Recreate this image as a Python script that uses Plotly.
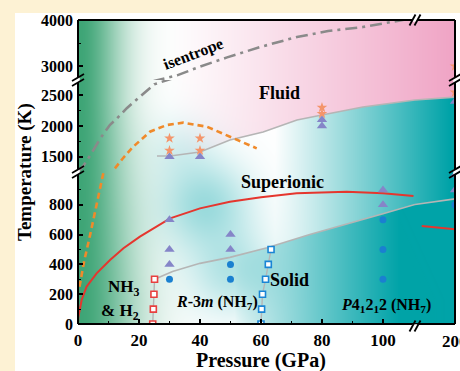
import numpy as np, zlib, struct, base64
import plotly.graph_objects as go

# ---------------- data (Pressure in GPa, Temperature in K) ----------------
isen_P = [0, 1.6, 4.5, 7.2, 10.5, 12.7, 16, 20.3, 25, 32.5, 40, 48.9, 60, 71.8, 82, 93.4, 100, 105.6, 109]
isen_T = [1250, 1340, 1560, 1790, 2020, 2120, 2290, 2473, 2680, 2800, 2990, 3190, 3420, 3632, 3760, 3848, 3920, 3978, 4030]

melt_P = [12.1, 15, 18.1, 23.6, 29.1, 34.5, 42.2, 49.8, 58.6]
melt_T = [1310, 1490, 1662, 1907, 2016, 2054, 1989, 1826, 1636]

lowmelt_P = [0.5, 2.0, 4.0, 6.0, 8.2, 8.6]
lowmelt_T = [250, 420, 600, 800, 1000, 1040]

red_P = [0, 0.1, 1.2, 2.8, 6.1, 10.5, 14.9, 20.3, 30.2, 40, 49.8, 60, 71.7, 88.1, 100, 110]
red_T = [0, 45, 161, 250, 340, 430, 508, 586, 709, 776, 821, 850, 877, 888, 878, 859]
red_r_P = [189.2, 200]
red_r_T = [658, 635]

fluid_P = [25.9, 30.2, 40, 49.8, 60.7, 71.8, 80, 93.4, 110.5]
fluid_T = [1511, 1511, 1576, 1772, 1902, 2098, 2179, 2310, 2424]
fluid_r_P = [187, 200]
fluid_r_T = [2424, 2470]

solid_P = [25.1, 28, 31, 40, 49.8, 62, 76, 100, 105.6, 110.5]
solid_T = [300, 327, 353, 407, 447, 512, 600, 740, 773, 802]
solid_r_P = [187, 200]
solid_r_T = [802, 840]

redsq_P = [24.5, 24.7, 24.9, 25.1]
redsq_T = [0, 100, 200, 300]
bluesq_P = [60, 60.2, 60.5, 61.5, 62.4, 63.3]
bluesq_T = [0, 100, 200, 300, 400, 500]

tri_P = [30, 30, 30, 50, 50, 100, 100, 200, 200, 30, 40, 80, 80, 200]
tri_T = [400, 500, 700, 500, 600, 800, 900, 900, 1000, 1500, 1500, 2000, 2100, 2400]
star_P = [30, 30, 40, 40, 80, 80, 200, 200]
star_T = [1600, 1800, 1600, 1800, 2200, 2300, 2550, 3000]
circ_P = [30, 50, 50, 100, 100, 100, 200]
circ_T = [300, 300, 400, 300, 500, 700, 800]

x_ticks = [0, 20, 40, 60, 80, 100]
x_minor = [10, 30, 50, 70, 90]
x_tick_r = 200
yL_ticks = [0, 200, 400, 600, 800]
yL_minor = [100, 300, 500, 700, 900]
yM_ticks = [1500, 2000, 2500]
yM_minor = [1750, 2250]
yT_ticks = [3000, 4000]
yT_minor = [3500]

# ---------------- geometry ----------------
FIG_W, FIG_H = 460, 371
ML, MR, MT, MB = 78, 5, 20, 47
PW = FIG_W - ML - MR
PH = FIG_H - MT - MB
BOT = MT + PH
XB_PX = 415      # x-axis break
YB1_PX = 172     # lower/middle break
YB2_PX = 80      # middle/top break
XL_RANGE = [0, 110.5]
XR_RANGE = [187, 200]
YL_RANGE = [0, 1020]
YM_RANGE = [1250, 2750]
YT_RANGE = [2700, 4000]

def fx(px): return (px - ML) / PW
def fy(py): return (BOT - py) / PH

xb = fx(XB_PX)
y1 = fy(YB1_PX)
y2 = fy(YB2_PX)

def P_to_px(P):
    P = np.asarray(P, float)
    left = ML + (P - XL_RANGE[0]) / (XL_RANGE[1] - XL_RANGE[0]) * (XB_PX - ML)
    right = XB_PX + (P - XR_RANGE[0]) / (XR_RANGE[1] - XR_RANGE[0]) * (ML + PW - XB_PX)
    return np.where(P <= XL_RANGE[1], left, right)

def T_to_py_mid(T):
    T = np.asarray(T, float)
    return YB1_PX - (T - YM_RANGE[0]) / (YM_RANGE[1] - YM_RANGE[0]) * (YB1_PX - YB2_PX)

def T_to_py_low(T):
    T = np.asarray(T, float)
    return BOT - (T - YL_RANGE[0]) / (YL_RANGE[1] - YL_RANGE[0]) * (BOT - YB1_PX)

# ---------------- background gradient image ----------------
gx = ML + np.arange(PW) + 0.5
gy = MT + np.arange(PH) + 0.5
X, Y = np.meshgrid(gx, gy)

f_px = P_to_px(fluid_P + fluid_r_P); f_py = T_to_py_mid(fluid_T + fluid_r_T)
s_px = P_to_px(solid_P + solid_r_P); s_py = T_to_py_low(solid_T + solid_r_T)
yf = np.interp(X, f_px, f_py)
ys = np.interp(X, s_px, s_py)
fluid = Y < yf
solid = Y > ys

wt_super = np.clip((X - 275) / 175, 0, 1)
wt_solid = np.clip((X - 235) / 165, 0, 1) ** 0.8
wt = np.where(solid, wt_solid, wt_super)
wt = np.where(fluid, 0.0, wt)
for cx, cy, s, a in [(205, 205, 32, 0.38), (232, 272, 30, 0.28), (180, 150, 24, 0.12)]:
    b = a * np.exp(-((X - cx) ** 2 + (Y - cy) ** 2) / (2 * s * s))
    wt = 1 - (1 - wt) * (1 - b)
wp = np.where(fluid, np.clip((X - 170) / 285, 0, 1) ** 1.05, 0.0)
sg = 45 + 15 * np.clip((Y - 100) / 200, 0, 1)
wg = np.exp(-((X - ML) / sg) ** 2)

white = np.array([255, 255, 255.0])
teal = np.array([0, 163, 168.0])
pink = np.array([240, 164, 197.0])
green = np.array([62, 165, 118.0])
col = white * (1 - wt[..., None]) + teal * wt[..., None]
col = col * (1 - wp[..., None]) + pink * wp[..., None]
col = col * (1 - wg[..., None]) + green * wg[..., None]
img = np.clip(col, 0, 255).astype(np.uint8)

def png_bytes(arr):
    h, w, _ = arr.shape
    raw = b''.join(b'\x00' + arr[i].tobytes() for i in range(h))
    def chunk(t, d):
        c = struct.pack('>I', len(d)) + t + d
        return c + struct.pack('>I', zlib.crc32(t + d) & 0xffffffff)
    return (b'\x89PNG\r\n\x1a\n' + chunk(b'IHDR', struct.pack('>IIBBBBB', w, h, 8, 2, 0, 0, 0))
            + chunk(b'IDAT', zlib.compress(raw, 9)) + chunk(b'IEND', b''))

bg_src = 'data:image/png;base64,' + base64.b64encode(png_bytes(img)).decode()

# ---------------- traces ----------------
fig = go.Figure()

def add_line(P, T, subplots, **line):
    for xa, ya in subplots:
        fig.add_trace(go.Scatter(x=P, y=T, mode='lines', line=line, xaxis=xa, yaxis=ya,
                                 showlegend=False, hoverinfo='skip'))

def add_markers(P, T, marker, line=None):
    P = np.asarray(P, float); T = np.asarray(T, float)
    for xa, xr in (('x', XL_RANGE), ('x2', XR_RANGE)):
        for ya, yr in (('y', YL_RANGE), ('y2', YM_RANGE), ('y3', YT_RANGE)):
            m = (P >= xr[0]) & (P <= xr[1]) & (T >= yr[0]) & (T <= yr[1])
            if m.any():
                fig.add_trace(go.Scatter(x=P[m], y=T[m], mode='lines+markers' if line else 'markers',
                                         marker=marker, line=line, xaxis=xa, yaxis=ya,
                                         showlegend=False, hoverinfo='skip'))

GRAY = '#B5B5B5'
add_line(fluid_P, fluid_T, [('x', 'y2')], color=GRAY, width=1.6)
add_line(fluid_r_P, fluid_r_T, [('x2', 'y2')], color=GRAY, width=1.6)
add_line(solid_P, solid_T, [('x', 'y')], color=GRAY, width=1.6)
add_line(solid_r_P, solid_r_T, [('x2', 'y')], color=GRAY, width=1.6)
add_line(isen_P, isen_T, [('x', 'y2'), ('x', 'y3')], color='#8A8A8A', width=2.6, dash='12px,5px,3px,5px')
add_line(melt_P, melt_T, [('x', 'y2')], color='#F08A2A', width=2.6, dash='6px,4px')
add_line(lowmelt_P, lowmelt_T, [('x', 'y')], color='#F08A2A', width=2.6, dash='6px,4px')
add_line(red_P, red_T, [('x', 'y')], color='#E5362E', width=2)
add_line(red_r_P, red_r_T, [('x2', 'y')], color='#E5362E', width=2)

add_markers(redsq_P, redsq_T, dict(symbol='square', size=6, color='white', line=dict(color='#E8403F', width=1.6)),
            line=dict(color=GRAY, width=1.4))
add_markers(bluesq_P, bluesq_T, dict(symbol='square', size=6, color='white', line=dict(color='#1A85D5', width=1.6)),
            line=dict(color=GRAY, width=1.4))
add_markers(tri_P, tri_T, dict(symbol='triangle-up', size=9, color='#8585C8'))
add_markers(star_P, star_T, dict(symbol='star', size=8, color='#F4956B'))
add_markers(circ_P, circ_T, dict(symbol='circle', size=7, color='#1A80D0'))

# ---------------- axes ----------------
yfont = dict(family='Liberation Serif', size=16, color='black', weight='bold')
xfont = dict(family='Liberation Serif', size=17, color='black', weight='bold')
common = dict(showgrid=False, zeroline=False, showline=False, ticks='inside', ticklen=5, tickwidth=1.5,
              tickcolor='black', fixedrange=True)

def minor(vals):
    return dict(tickmode='array', tickvals=vals, ticks='inside', ticklen=3, tickwidth=1.2, tickcolor='black')

fig.update_layout(
    width=FIG_W, height=FIG_H,
    margin=dict(l=ML, r=MR, t=MT, b=MB, pad=0),
    paper_bgcolor='white', plot_bgcolor='rgba(0,0,0,0)',
    xaxis=dict(domain=[0, xb], range=XL_RANGE, anchor='y', tickmode='array', tickvals=x_ticks,
               minor=minor(x_minor), ticklabelstandoff=4, tickfont=xfont, **common),
    xaxis2=dict(domain=[xb, 1], range=XR_RANGE, anchor='y', tickmode='array', tickvals=[x_tick_r],
                showticklabels=False, tickfont=xfont, **{**common, 'ticks': ''}),
    yaxis=dict(domain=[0, y1], range=YL_RANGE, anchor='x', tickmode='array', tickvals=yL_ticks,
               minor=minor(yL_minor), ticklabelstandoff=4, tickfont=yfont, **common),
    yaxis2=dict(domain=[y1, y2], range=YM_RANGE, anchor='x', tickmode='array', tickvals=yM_ticks,
                minor=minor(yM_minor), ticklabelstandoff=4, tickfont=yfont, **common),
    yaxis3=dict(domain=[y2, 1], range=YT_RANGE, anchor='x', tickmode='array', tickvals=yT_ticks,
                minor=minor(yT_minor), ticklabelstandoff=4, tickfont=yfont, **common),
    images=[dict(source=bg_src, xref='paper', yref='paper', x=0, y=1, sizex=1, sizey=1,
                 xanchor='left', yanchor='top', sizing='stretch', layer='below')],
)

# ---------------- decorations (frame, breaks, cream border) ----------------
CREAM = '#FDF2D4'
shapes = [
    dict(type='rect', xref='paper', yref='paper', x0=fx(0), x1=fx(FIG_W), y0=fy(0), y1=fy(13),
         fillcolor=CREAM, line=dict(width=0), layer='below'),
    dict(type='rect', xref='paper', yref='paper', x0=fx(0), x1=fx(15), y0=fy(0), y1=fy(FIG_H),
         fillcolor=CREAM, line=dict(width=0), layer='below'),
]
def pline(x0, y0, x1, y1, color='black', width=2):
    shapes.append(dict(type='line', xref='paper', yref='paper', x0=fx(x0), y0=fy(y0), x1=fx(x1), y1=fy(y1),
                       line=dict(color=color, width=width)))

R = ML + PW
pline(ML, MT, ML, BOT); pline(R, MT, R, BOT); pline(ML, MT, R, MT); pline(ML, BOT, R, BOT)
for xa in (ML, R):
    for yb in (YB1_PX, YB2_PX):
        pline(xa, yb - 2.5, xa, yb + 2.5, color='white', width=3.5)
        for d in (-2.5, 2.5):
            pline(xa - 6, yb + d + 3.5, xa + 6, yb + d - 3.5, width=1.8)
for yb in (MT, BOT + 2):
    pline(XB_PX - 2.5, yb, XB_PX + 2.5, yb, color='white', width=3.5)
    for d in (-2.5, 2.5):
        pline(XB_PX + d - 3, yb + 5.5, XB_PX + d + 3, yb - 5.5, width=1.8)
fig.update_layout(shapes=shapes)

# ---------------- text ----------------
def lab(text, x, y, xref, yref, size=18, angle=0):
    fig.add_annotation(text=text, x=x, y=y, xref=xref, yref=yref, showarrow=False, textangle=angle,
                       font=dict(family='Liberation Serif', size=size, color='black', weight='bold'),
                       xanchor='center', yanchor='middle')

lab('isentrope', 38, 3260, 'x', 'y3', size=16, angle=-21)
lab('Fluid', 66.2, 2538, 'x', 'y2', size=18)
lab('Superionic', 67.2, 953, 'x', 'y', size=18)
lab('Solid', 69.5, 295, 'x', 'y', size=18)
lab('NH<sub>3</sub>', 15.1, 242, 'x', 'y', size=17)
lab('& H<sub>2</sub>', 13.8, 80, 'x', 'y', size=17)
lab('<i>R</i>-3<i>m</i> (NH<sub>7</sub>)', 45.6, 141, 'x', 'y', size=16)
lab('<i>P</i>4<sub>1</sub>2<sub>1</sub>2 (NH<sub>7</sub>)', 101, 127, 'x', 'y', size=16)
lab(str(x_tick_r), fx(R), fy(341), 'paper', 'paper', size=17)
lab('Pressure (GPa)', fx(261), fy(360), 'paper', 'paper', size=20)
lab('Temperature (K)', fx(25), 0.5, 'paper', 'paper', size=19, angle=-90)

fig.write_html('out.html')
